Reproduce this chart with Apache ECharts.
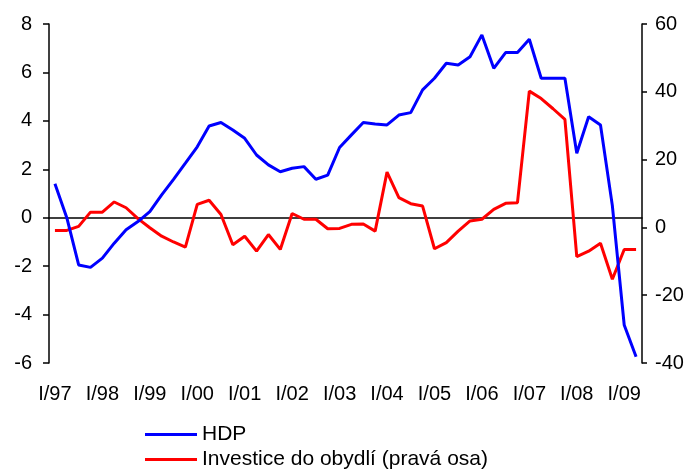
<!DOCTYPE html>
<html>
<head>
<meta charset="utf-8">
<title>HDP a investice do obydlí</title>
<script src="https://cdn.jsdelivr.net/npm/echarts@6/dist/echarts.min.js"></script>
<style>
  html, body { margin: 0; padding: 0; background: #fff; }
  #chart { width: 687px; height: 470px; }
</style>
</head>
<body>
<div id="chart"></div>
<script>
// kvartaly I/97 .. II/09
const quarters = [
  'I/97','II/97','III/97','IV/97','I/98','II/98','III/98','IV/98',
  'I/99','II/99','III/99','IV/99','I/00','II/00','III/00','IV/00',
  'I/01','II/01','III/01','IV/01','I/02','II/02','III/02','IV/02',
  'I/03','II/03','III/03','IV/03','I/04','II/04','III/04','IV/04',
  'I/05','II/05','III/05','IV/05','I/06','II/06','III/06','IV/06',
  'I/07','II/07','III/07','IV/07','I/08','II/08','III/08','IV/08',
  'I/09','II/09'
];

// HDP (leva osa)
const hdp = [
  1.4, 0.0, -1.95, -2.05, -1.67, -1.05, -0.5, -0.16,
  0.25, 0.94, 1.58, 2.25, 2.93, 3.79, 3.93, 3.62,
  3.28, 2.59, 2.18, 1.9, 2.04, 2.11, 1.59, 1.76,
  2.9, 3.42, 3.93, 3.87, 3.83, 4.24, 4.34, 5.28,
  5.76, 6.38, 6.31, 6.65, 7.55, 6.17, 6.82, 6.82,
  7.37, 5.76, 5.76, 5.76, 2.66, 4.17, 3.83, 0.5,
  -4.43, -5.74
];
// investice do obydli (prava osa)
const investice = [
  -0.9, -0.9, 0.3, 4.5, 4.5, 7.5, 5.8, 2.6,
  -0.1, -2.6, -4.3, -5.8, 6.8, 8.0, 3.8, -5.1,
  -2.6, -7.0, -2.1, -6.5, 4.1, 2.4, 2.4, -0.4,
  -0.3, 0.9, 1.0, -1.1, 16.3, 8.8, 7.0, 6.3,
  -6.3, -4.5, -1.1, 1.9, 2.4, 5.3, 7.1, 7.3,
  40.2, 38.0, 35.0, 31.9, -8.6, -7.0, -4.7, -15.3,
  -6.5, -6.5
];

const leftTicks = { min: -6, max: 8, interval: 2 };
const rightTicks = { min: -40, max: 60, interval: 20 };

const font = 'Liberation Sans, Arial, sans-serif';
const legendText = { fontSize: 21, color: '#000', fontFamily: font };

const chart = echarts.init(document.getElementById('chart'));
const option = {
  animation: false,
  textStyle: { fontFamily: font },
  // dve legendy pod sebou
  legend: [
    {
      left: 145, top: 424, padding: 0,
      itemWidth: 52, itemHeight: 3, icon: 'rect',
      data: ['HDP'],
      textStyle: legendText
    },
    {
      left: 145, top: 449, padding: 0,
      itemWidth: 52, itemHeight: 3, icon: 'rect',
      data: ['Investice do obydlí (pravá osa)'],
      textStyle: legendText
    }
  ],
  grid: { left: 49, right: 45, top: 24, bottom: 107 },
  xAxis: [
    {
      // cara v nule leve osy
      type: 'category',
      position: 'top',
      data: quarters,
      boundaryGap: true,
      axisLine: { onZero: true, lineStyle: { color: '#000', width: 1.5 } },
      axisTick: { show: false },
      axisLabel: { show: false },
      splitLine: { show: false }
    },
    {
      // popisky let dole
      type: 'category',
      position: 'bottom',
      data: quarters,
      boundaryGap: true,
      axisLine: { show: false, onZero: false },
      axisTick: { show: false },
      axisLabel: { fontSize: 20, color: '#000', margin: 21, interval: 3 },
      splitLine: { show: false }
    }
  ],
  yAxis: [
    {
      type: 'value',
      position: 'left',
      min: leftTicks.min, max: leftTicks.max, interval: leftTicks.interval,
      axisLine: { show: true, lineStyle: { color: '#000', width: 1.5 } },
      axisTick: { show: true, length: 6, lineStyle: { color: '#000', width: 1.5 } },
      axisLabel: { fontSize: 20, color: '#000', margin: 17 },
      splitLine: { show: false }
    },
    {
      type: 'value',
      position: 'right',
      min: rightTicks.min, max: rightTicks.max, interval: rightTicks.interval,
      axisLine: { show: true, lineStyle: { color: '#000', width: 1.5 } },
      axisTick: { show: true, length: 5, lineStyle: { color: '#000', width: 1.5 } },
      axisLabel: { fontSize: 20, color: '#000', margin: 13 },
      splitLine: { show: false }
    }
  ],
  series: [
    {
      name: 'Investice do obydlí (pravá osa)',
      type: 'line',
      yAxisIndex: 1,
      data: investice,
      symbol: 'none',
      color: '#ff0000',
      lineStyle: { color: '#ff0000', width: 3 }
    },
    {
      name: 'HDP',
      type: 'line',
      yAxisIndex: 0,
      data: hdp,
      symbol: 'none',
      color: '#0000ff',
      lineStyle: { color: '#0000ff', width: 3 }
    }
  ]
};
chart.setOption(option);
</script>
</body>
</html>
